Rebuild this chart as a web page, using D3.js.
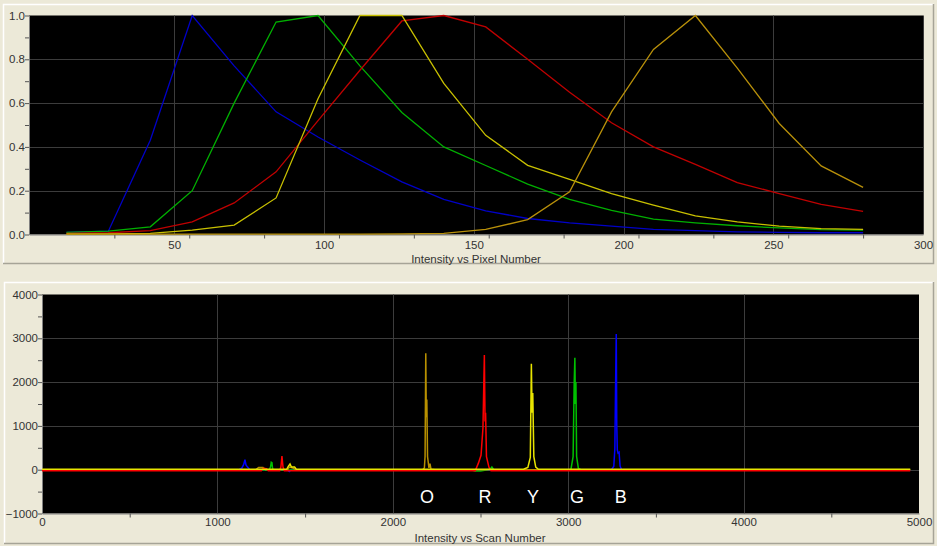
<!DOCTYPE html>
<html>
<head>
<meta charset="utf-8">
<script src="https://cdn.jsdelivr.net/npm/d3@7"></script>
<style>
  body { margin: 0; background: #ece9d8; }
  svg { display: block; }
  text { font-family: "Liberation Sans", Arial, sans-serif; }
</style>
</head>
<body>
<script>
// --- top chart: normalised spectra, intensity vs pixel number
const pixelNumbers = [14, 28, 42, 56, 70, 84, 98, 112, 126, 140, 154, 168, 182, 196, 210, 224, 238, 252, 266, 280];
const specBlue   = [0.01, 0.015, 0.43, 1.0, 0.77, 0.56, 0.445, 0.34, 0.24, 0.16, 0.108, 0.073, 0.053, 0.038, 0.023, 0.018, 0.012, 0.01, 0.008, 0.008];
const specGreen  = [0.01, 0.015, 0.035, 0.2, 0.6, 0.97, 1.0, 0.77, 0.557, 0.40, 0.315, 0.23, 0.16, 0.11, 0.07, 0.053, 0.04, 0.03, 0.022, 0.02];
const specRed    = [0.005, 0.008, 0.018, 0.058, 0.144, 0.286, 0.52, 0.75, 0.975, 1.0, 0.948, 0.80, 0.65, 0.51, 0.40, 0.32, 0.237, 0.187, 0.138, 0.106];
const specYellow = [0.002, 0.003, 0.005, 0.02, 0.043, 0.167, 0.62, 1.0, 1.0, 0.69, 0.453, 0.316, 0.252, 0.187, 0.134, 0.085, 0.058, 0.038, 0.027, 0.023];
const specOrange = [0.002, 0.002, 0.002, 0.002, 0.002, 0.002, 0.002, 0.002, 0.003, 0.005, 0.023, 0.068, 0.195, 0.56, 0.845, 1.0, 0.76, 0.507, 0.313, 0.215];

const pixelTicks = [50, 100, 150, 200, 250, 300];
const pixelMinorTicks = [30, 55, 80, 105, 130, 155, 180, 205, 230, 255, 280];
const specTicks = [0, 0.2, 0.4, 0.6, 0.8, 1.0];
const specMinorTicks = [0.1, 0.3, 0.5, 0.7, 0.9];

// --- bottom chart: raw intensity vs scan number, [scan, intensity]
const scanBlue = [[0, -10], [1120, -10], [1140, 40], [1150, 120], [1157, 230], [1163, 110], [1172, 60], [1185, 0], [1400, -10], [1410, -40], [1420, 0],
  [3245, -10], [3260, 80], [3266, 480], [3270, 1900], [3274, 3100], [3277, 1000], [3280, 450], [3284, 380], [3290, 400], [3296, 80], [3305, -10], [4950, -10]];
const scanGreen = [[0, -5], [1295, -5], [1303, 60], [1307, 170], [1311, 160], [1315, 10], [1330, -5], [2450, -5], [2470, -30], [2500, -30], [2555, 10], [2565, 60], [2575, 0],
  [3015, -5], [3028, 300], [3034, 1950], [3038, 2555], [3041, 1500], [3044, 2000], [3048, 300], [3058, 30], [3075, -5], [4950, -5]];
const scanOrange = [[0, 0], [1220, 0], [1235, 50], [1260, 50], [1275, 0], [1400, 0], [1410, 60], [1430, 40], [1445, 0],
  [2170, 0], [2180, 40], [2184, 300], [2188, 2660], [2191, 1200], [2194, 1600], [2198, 300], [2206, 40], [2212, 140], [2218, 10], [2240, 0], [4950, 0]];
const scanRed = [[0, -25], [1250, -25], [1262, 30], [1280, 20], [1290, -25], [1355, -25], [1362, 60], [1368, 310], [1374, 60], [1382, -25],
  [2470, -25], [2488, 150], [2503, 330], [2514, 950], [2522, 2620], [2526, 1100], [2529, 1300], [2534, 300], [2548, 60], [2560, -25], [4950, -25]];
const scanYellow = [[0, 10], [1395, 10], [1405, 80], [1414, 130], [1422, 60], [1440, 60], [1450, 10],
  [2745, 10], [2770, 50], [2784, 280], [2790, 2420], [2794, 1300], [2798, 1750], [2804, 300], [2815, 60], [2830, 10], [4950, 10]];

const scanTicks = [0, 1000, 2000, 3000, 4000, 5000];
const scanMinorTicks = [500, 1500, 2500, 3500, 4500];
const intTicks = [-1000, 0, 1000, 2000, 3000, 4000];
const intMinorTicks = [-500, 500, 1500, 2500, 3500];

const dyeLabels = ["O", "R", "Y", "G", "B"];
const dyeLabelScans = [2195, 2525, 2800, 3050, 3300];

const W = 937, H = 546;
const svg = d3.select("body").append("svg").attr("width", W).attr("height", H);

function panel(x0, y0, x1, y1) {
  svg.append("rect").attr("x", x0).attr("y", y0).attr("width", x1 - x0).attr("height", y1 - y0).attr("fill", "#ece9d8");
  svg.append("path").attr("d", `M${x0 + 0.5},${y1} V${y0 + 0.5} H${x1}`).attr("fill", "none").attr("stroke", "#ffffff").attr("stroke-width", 1.5);
  svg.append("path").attr("d", `M${x0},${y1 - 0.5} H${x1 - 0.5} V${y0}`).attr("fill", "none").attr("stroke", "#a6a497").attr("stroke-width", 1.5);
}
panel(3, 4, 934, 264);
panel(4, 282, 934, 544);

function drawChart(opt) {
  const x = opt.x, y = opt.y;
  const [l, r] = x.range();
  const [b, t] = y.range();
  svg.append("rect").attr("x", l).attr("y", t).attr("width", r - l).attr("height", b - t).attr("fill", "#000");

  const grid = svg.append("g").attr("stroke", "#3c3c3c").attr("stroke-width", 1);
  opt.xGrid.forEach(v => grid.append("line").attr("x1", Math.round(x(v)) + 0.5).attr("x2", Math.round(x(v)) + 0.5).attr("y1", t).attr("y2", b));
  opt.yGrid.forEach(v => grid.append("line").attr("x1", l).attr("x2", r).attr("y1", Math.round(y(v)) + 0.5).attr("y2", Math.round(y(v)) + 0.5));

  // tick marks
  svg.append("g").attr("transform", `translate(0,${b})`)
    .call(d3.axisBottom(x).tickValues(opt.xMinor).tickFormat("").tickSizeOuter(0).tickSizeInner(4))
    .call(g => g.select(".domain").attr("stroke", "#808080"))
    .call(g => g.selectAll(".tick line").attr("stroke", "#555"));
  svg.append("g").attr("transform", `translate(${l},0)`)
    .call(d3.axisLeft(y).tickValues(opt.yMinor.concat(opt.yLabels)).tickFormat("").tickSizeOuter(0).tickSizeInner(4))
    .call(g => g.select(".domain").attr("stroke", "#808080"))
    .call(g => g.selectAll(".tick line").attr("stroke", "#555"));

  // labels
  svg.append("g").attr("transform", `translate(0,${b})`)
    .call(d3.axisBottom(x).tickValues(opt.xLabels).tickFormat(opt.xFmt).tickSize(0).tickPadding(opt.xPad))
    .call(g => g.select(".domain").remove())
    .call(g => g.selectAll("text").attr("fill", "#333").attr("font-size", "11.5px").attr("font-family", "Liberation Sans"));
  svg.append("g").attr("transform", `translate(${l},0)`)
    .call(d3.axisLeft(y).tickValues(opt.yLabels).tickFormat(opt.yFmt).tickSize(0).tickPadding(4))
    .call(g => g.select(".domain").remove())
    .call(g => g.selectAll("text").attr("fill", "#333").attr("font-size", "11.5px").attr("font-family", "Liberation Sans"));

  svg.append("text").attr("x", opt.titleX).attr("y", opt.titleY).attr("text-anchor", "middle")
    .attr("font-size", "11.5px").attr("fill", "#333").text(opt.title);
}

// top chart
const xTop = d3.scaleLinear().domain([1.5, 300]).range([29, 923]);
const yTop = d3.scaleLinear().domain([0, 1]).range([234.5, 15.5]);
drawChart({
  x: xTop, y: yTop,
  xGrid: [50, 100, 150, 200, 250, 300], yGrid: [0.2, 0.4, 0.6, 0.8],
  xMinor: pixelMinorTicks, yMinor: specMinorTicks,
  xLabels: pixelTicks, yLabels: specTicks,
  xFmt: d3.format("d"), yFmt: d3.format(".1f"), xPad: 6,
  title: "Intensity vs Pixel Number", titleX: 476, titleY: 263
});

const topSeries = [
  {vals: specBlue, color: "#0000c8"},
  {vals: specGreen, color: "#00b000"},
  {vals: specRed, color: "#c00000"},
  {vals: specYellow, color: "#c8c000"},
  {vals: specOrange, color: "#b8900a"}
];
const lineTop = d3.line().x(d => xTop(d[0])).y(d => yTop(d[1]));
topSeries.forEach(s => {
  svg.append("path").datum(pixelNumbers.map((p, i) => [p, s.vals[i]]))
    .attr("d", lineTop).attr("fill", "none").attr("stroke", s.color).attr("stroke-width", 1.3);
});

// bottom chart
const xBot = d3.scaleLinear().domain([0, 5000]).range([42, 919]);
const yBot = d3.scaleLinear().domain([-1000, 4000]).range([513.5, 294.5]);
drawChart({
  x: xBot, y: yBot,
  xGrid: [1000, 2000, 3000, 4000], yGrid: [0, 1000, 2000, 3000],
  xMinor: scanMinorTicks, yMinor: intMinorTicks,
  xLabels: scanTicks, yLabels: intTicks,
  xFmt: d3.format("d"), yFmt: d3.format("d"), xPad: 4,
  title: "Intensity vs Scan Number", titleX: 480, titleY: 542
});

const botSeries = [
  {pts: scanBlue, color: "#0000ff"},
  {pts: scanGreen, color: "#00c000"},
  {pts: scanOrange, color: "#b89000"},
  {pts: scanRed, color: "#ff0000"},
  {pts: scanYellow, color: "#e8e400"}
];
const lineBot = d3.line().x(d => xBot(d[0])).y(d => yBot(d[1]));
botSeries.forEach(s => {
  svg.append("path").datum(s.pts).attr("d", lineBot).attr("fill", "none")
    .attr("stroke", s.color).attr("stroke-width", 1.5);
});

svg.append("g").selectAll("text").data(dyeLabels).join("text")
  .attr("x", (d, i) => xBot(dyeLabelScans[i]))
  .attr("y", 503)
  .attr("text-anchor", "middle")
  .attr("font-family", "DejaVu Sans")
  .attr("font-size", "18px")
  .attr("fill", "#fff")
  .text(d => d);
</script>
</body>
</html>
